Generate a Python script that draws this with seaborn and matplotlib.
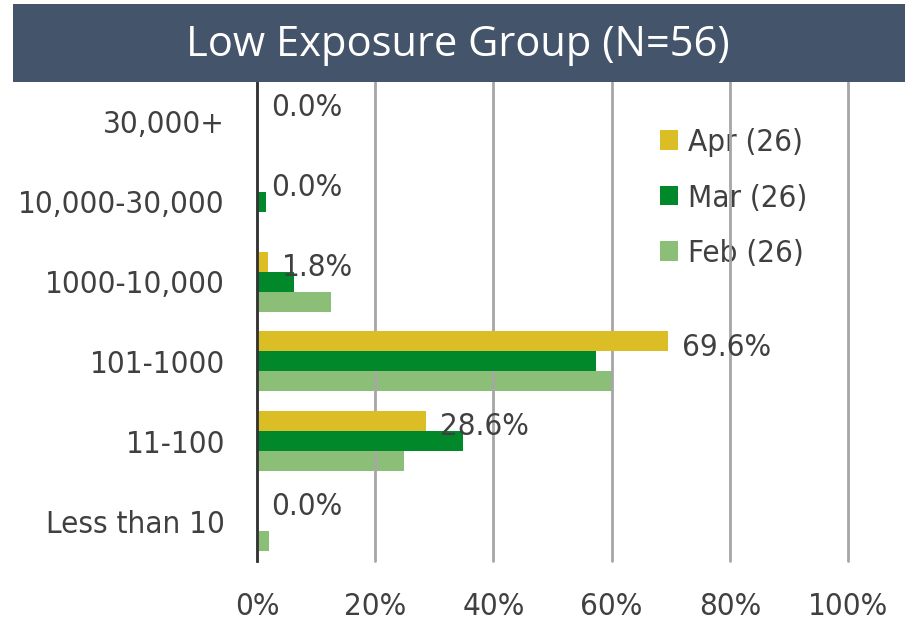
import matplotlib
matplotlib.use("Agg")
import matplotlib.pyplot as plt
import matplotlib.patches as mpatches
from matplotlib.ticker import PercentFormatter
import seaborn as sns
import pandas as pd

# Exposure bins, top to bottom
categories = ["30,000+", "10,000-30,000", "1000-10,000", "101-1000", "11-100", "Less than 10"]
months = ["Apr (26)", "Mar (26)", "Feb (26)"]

# Share of respondents per bin (fractions)
apr_vals = [0.0, 0.0, 0.018, 0.696, 0.286, 0.0]
mar_vals = [0.0, 0.015, 0.063, 0.573, 0.349, 0.0]
feb_vals = [0.0, 0.0, 0.125, 0.602, 0.249, 0.021]

# Feb is a translucent green that reads as a pale green on white
colors = ["#DBBE25", "#00882B", "#2C8B0A"]
feb_alpha = 0.55
title = "Low Exposure Group (N=56)"

rows = []
for month, vals in zip(months, [apr_vals, mar_vals, feb_vals]):
    for cat, v in zip(categories, vals):
        rows.append({"bin": cat, "month": month, "share": v})
df = pd.DataFrame(rows)

sns.set_theme(style="white")
plt.rcParams["font.family"] = ["DejaVu Sans"]
plt.rcParams["font.stretch"] = "condensed"

FS = 22.5
TXT = "#404040"

fig = plt.figure(figsize=(9.13, 6.21), dpi=100)
ax = fig.add_axes([257 / 913, 1 - 561 / 621, (848 - 257) / 913, (561 - 82) / 621])

# Title band
fig.patches.append(mpatches.Rectangle((13 / 913, 1 - 82 / 621), (905 - 13) / 913, 78 / 621,
                                      transform=fig.transFigure, facecolor="#44546A",
                                      edgecolor="none", zorder=0))
fig.text(458 / 913, 1 - 45 / 621, title, ha="center", va="center",
         color="white", fontsize=30, family=["Open Sans", "DejaVu Sans"],
         fontstretch="normal")

sns.barplot(data=df, y="bin", x="share", hue="month", order=categories,
            hue_order=months, palette=colors, orient="h", width=0.75,
            saturation=1, ax=ax, zorder=3, edgecolor="none")
for bar in ax.containers[2]:
    bar.set_alpha(feb_alpha)
    bar.set_zorder(0.2)

ax.set_xlim(0, 1)
ax.set_ylim(len(categories) - 0.5, -0.5)
ax.set_xticks([0, 0.2, 0.4, 0.6, 0.8, 1.0])
ax.xaxis.set_major_formatter(PercentFormatter(1.0, decimals=0))
ax.set_xlabel("")
ax.set_ylabel("")
ax.grid(axis="x", color="#A6A6A6", linewidth=2)
ax.grid(axis="y", visible=False)
for gl in ax.get_xgridlines():
    gl.set_clip_on(False)
for s in ["top", "right", "bottom"]:
    ax.spines[s].set_visible(False)
ax.spines["left"].set_color("#333333")
ax.spines["left"].set_linewidth(2)
ax.spines["left"].set_zorder(5)
ax.tick_params(axis="x", length=0, pad=22, labelsize=FS, labelcolor=TXT)
ax.tick_params(axis="y", length=0, pad=23, labelsize=FS, labelcolor=TXT)

# Value labels on the April series, nudged slightly below the bar centre
texts = ax.bar_label(ax.containers[0], labels=[f"{v * 100:.1f}%" for v in apr_vals],
                     padding=10, fontsize=FS, color=TXT, zorder=6)
for t in texts:
    t.xyann = (10, -4)

leg = ax.legend(loc="upper left", bbox_to_anchor=(0.66, 0.93), frameon=False,
                fontsize=FS, labelcolor=TXT, handlelength=0.6, handleheight=0.6,
                handletextpad=0.3, labelspacing=0.85, borderaxespad=0)
leg.legend_handles[2].set_alpha(feb_alpha)
leg.set_zorder(0.1)

fig.savefig("out.png", dpi=100, facecolor="white")
